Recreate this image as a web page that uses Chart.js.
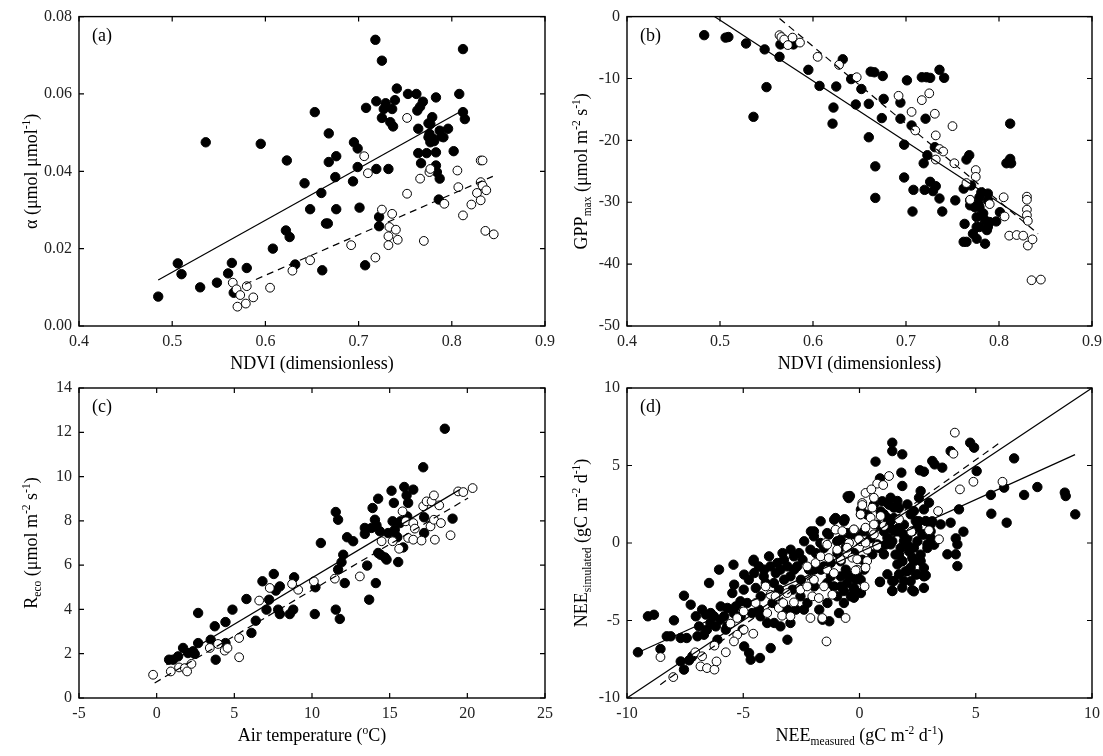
<!DOCTYPE html>
<html><head><meta charset="utf-8">
<script src="https://cdn.jsdelivr.net/npm/chart.js@4.4.0/dist/chart.umd.min.js"></script>
<style>
html,body{margin:0;padding:0;background:#fff;overflow:hidden;width:1103px;height:756px;}
canvas{position:absolute;left:0;top:0;}
</style></head><body>
<canvas id="ca" width="1200" height="800"></canvas>
<canvas id="cb" width="1200" height="800"></canvas>
<canvas id="cc" width="1200" height="800"></canvas>
<canvas id="cd" width="1200" height="800"></canvas>
<script>
// ---------- Panel (a): alpha vs NDVI ----------
const A_X_TICKS = [0.4, 0.5, 0.6, 0.7, 0.8, 0.9];
const A_X_LABELS = ['0.4', '0.5', '0.6', '0.7', '0.8', '0.9'];
const A_Y_TICKS = [0, 0.02, 0.04, 0.06, 0.08];
const A_Y_LABELS = ['0.00', '0.02', '0.04', '0.06', '0.08'];
const A_FILLED = [[0.485,0.0076],[0.506,0.0162],[0.510,0.0134],[0.530,0.0100],[0.536,0.0475],[0.548,0.0112],[0.560,0.0136],[0.564,0.0163],[0.566,0.0086],[0.580,0.0150],[0.595,0.0471],[0.608,0.0200],[0.623,0.0428],[0.622,0.0247],[0.626,0.0230],[0.632,0.0159],[0.642,0.0369],[0.648,0.0302],[0.653,0.0553],[0.660,0.0344],[0.661,0.0144],[0.665,0.0265],[0.667,0.0265],[0.668,0.0498],[0.668,0.0424],[0.675,0.0385],[0.676,0.0439],[0.676,0.0302],[0.695,0.0475],[0.694,0.0374],[0.699,0.0459],[0.699,0.0411],[0.701,0.0306],[0.707,0.0157],[0.708,0.0564],[0.718,0.0740],[0.719,0.0406],[0.719,0.0581],[0.722,0.0282],[0.722,0.0258],[0.725,0.0686],[0.725,0.0538],[0.727,0.0561],[0.729,0.0576],[0.732,0.0406],[0.734,0.0527],[0.736,0.0561],[0.737,0.0516],[0.739,0.0584],[0.741,0.0614],[0.753,0.0600],[0.762,0.0600],[0.763,0.0557],[0.764,0.0510],[0.764,0.0447],[0.766,0.0567],[0.767,0.0421],[0.769,0.0580],[0.773,0.0447],[0.775,0.0524],[0.776,0.0497],[0.777,0.0475],[0.779,0.0540],[0.781,0.0478],[0.783,0.0591],[0.783,0.0449],[0.783,0.0415],[0.784,0.0398],[0.787,0.0381],[0.786,0.0327],[0.789,0.0490],[0.796,0.0510],[0.802,0.0452],[0.808,0.0600],[0.812,0.0716],[0.812,0.0553],[0.814,0.0535],[0.787,0.0505],[0.791,0.0488],[0.777,0.0522],[0.775,0.0488],[0.780,0.0484]];
const A_OPEN = [[0.565,0.0112],[0.569,0.0095],[0.573,0.0080],[0.570,0.0050],[0.579,0.0058],[0.580,0.0103],[0.587,0.0074],[0.605,0.0099],[0.629,0.0143],[0.648,0.0170],[0.692,0.0209],[0.706,0.0439],[0.710,0.0395],[0.718,0.0177],[0.725,0.0301],[0.733,0.0256],[0.732,0.0232],[0.732,0.0209],[0.736,0.0290],[0.740,0.0249],[0.742,0.0223],[0.752,0.0538],[0.752,0.0342],[0.766,0.0381],[0.770,0.0220],[0.776,0.0398],[0.777,0.0406],[0.792,0.0316],[0.806,0.0402],[0.807,0.0359],[0.812,0.0286],[0.821,0.0314],[0.827,0.0344],[0.831,0.0428],[0.833,0.0428],[0.831,0.0372],[0.833,0.0363],[0.831,0.0325],[0.837,0.0351],[0.836,0.0246],[0.845,0.0237]];
const A_SOLID = [[0.485,0.0119],[0.809,0.0554]];
const A_DASH = [[0.578,0.0108],[0.844,0.0387]];

// ---------- Panel (b): GPPmax vs NDVI ----------
const B_X_TICKS = [0.4, 0.5, 0.6, 0.7, 0.8, 0.9];
const B_X_LABELS = ['0.4', '0.5', '0.6', '0.7', '0.8', '0.9'];
const B_Y_TICKS = [-50, -40, -30, -20, -10, 0];
const B_Y_LABELS = ['-50', '-40', '-30', '-20', '-10', '0'];
const B_FILLED = [[0.483,-3.0],[0.506,-3.4],[0.509,-3.3],[0.528,-4.35],[0.548,-5.3],[0.550,-11.4],[0.564,-6.5],[0.565,-4.5],[0.579,-4.5],[0.536,-16.2],[0.595,-8.6],[0.607,-11.2],[0.621,-17.3],[0.622,-14.7],[0.625,-11.3],[0.632,-6.9],[0.641,-10.1],[0.646,-14.2],[0.652,-11.7],[0.660,-14.1],[0.660,-19.5],[0.662,-8.9],[0.666,-9.0],[0.667,-24.2],[0.667,-29.3],[0.675,-9.6],[0.676,-13.3],[0.674,-16.4],[0.694,-13.9],[0.694,-16.5],[0.698,-20.7],[0.698,-26.0],[0.701,-10.3],[0.706,-17.6],[0.707,-31.5],[0.708,-28.0],[0.717,-9.8],[0.719,-23.7],[0.720,-28.0],[0.722,-9.8],[0.726,-9.9],[0.721,-16.5],[0.723,-22.4],[0.726,-26.7],[0.729,-28.2],[0.732,-27.4],[0.731,-21.1],[0.736,-8.6],[0.736,-29.4],[0.739,-31.5],[0.741,-9.9],[0.753,-29.7],[0.762,-27.8],[0.763,-33.5],[0.762,-36.4],[0.765,-36.4],[0.765,-23.1],[0.768,-22.4],[0.769,-29.7],[0.770,-27.3],[0.774,-30.8],[0.776,-32.4],[0.776,-34.0],[0.778,-30.2],[0.779,-29.2],[0.781,-28.4],[0.783,-31.8],[0.785,-32.9],[0.787,-34.5],[0.788,-28.6],[0.790,-33.2],[0.797,-33.1],[0.772,-35.1],[0.776,-35.9],[0.785,-36.7],[0.801,-31.6],[0.812,-17.3],[0.808,-23.7],[0.812,-23.0],[0.813,-23.7],[0.769,-30.5],[0.788,-29.7],[0.779,-30.8],[0.788,-34.0],[0.779,-34.0]];
const B_OPEN = [[0.564,-3.0],[0.566,-3.3],[0.569,-3.7],[0.573,-4.6],[0.578,-3.4],[0.586,-4.2],[0.605,-6.5],[0.628,-7.8],[0.647,-9.8],[0.692,-12.8],[0.706,-15.4],[0.710,-18.4],[0.717,-13.5],[0.725,-12.4],[0.731,-15.7],[0.732,-19.2],[0.732,-23.1],[0.736,-21.4],[0.740,-21.8],[0.750,-17.7],[0.752,-23.7],[0.765,-26.9],[0.769,-29.6],[0.775,-24.8],[0.775,-25.9],[0.790,-30.3],[0.805,-29.2],[0.806,-32.3],[0.811,-35.4],[0.819,-35.3],[0.826,-35.4],[0.830,-29.1],[0.830,-29.6],[0.830,-31.2],[0.830,-32.1],[0.831,-33.0],[0.831,-37.0],[0.836,-36.0],[0.835,-42.6],[0.845,-42.5]];
const B_SOLID = [[0.494,0],[0.826,-32.6]];
const B_DASH = [[0.564,-0.3],[0.842,-35.1]];

// ---------- Panel (c): Reco vs air temperature ----------
const C_X_TICKS = [-5, 0, 5, 10, 15, 20, 25];
const C_X_LABELS = ['-5', '0', '5', '10', '15', '20', '25'];
const C_Y_TICKS = [0, 2, 4, 6, 8, 10, 12, 14];
const C_Y_LABELS = ['0', '2', '4', '6', '8', '10', '12', '14'];
const C_FILLED = [[0.80,1.73],[1.06,1.73],[1.38,1.88],[1.70,2.26],[2.02,2.03],[2.34,2.11],[2.45,1.99],[2.67,2.48],[2.67,3.84],[3.48,2.63],[3.74,3.24],[3.80,1.73],[4.43,3.43],[4.43,2.48],[4.88,3.99],[5.78,4.47],[6.10,2.94],[6.38,3.49],[6.81,5.27],[7.07,3.99],[7.24,4.44],[7.54,5.60],[7.67,4.85],[7.93,5.04],[7.82,3.99],[7.93,3.79],[8.57,3.79],[8.79,3.99],[8.85,5.45],[10.18,3.79],[10.22,5.00],[10.57,7.00],[11.53,8.40],[11.68,8.05],[11.53,3.99],[11.79,3.57],[11.68,5.80],[11.90,6.13],[12.01,6.47],[12.11,5.19],[12.26,7.26],[12.65,7.08],[13.40,7.68],[13.40,7.41],[13.55,5.98],[13.68,4.44],[13.90,8.58],[14.05,8.05],[14.15,7.80],[14.11,5.19],[14.26,9.00],[14.26,6.55],[14.41,6.47],[14.37,7.53],[14.69,6.35],[14.80,6.25],[15.12,9.36],[15.19,7.98],[15.27,8.81],[15.33,7.60],[15.49,7.26],[15.55,6.14],[15.70,7.98],[15.87,6.80],[15.94,9.53],[16.09,9.15],[16.19,8.81],[16.13,8.20],[16.52,9.41],[17.16,10.42],[17.22,8.16],[17.22,7.45],[18.55,12.16],[19.05,8.10],[15.66,7.90],[13.83,7.68],[14.90,7.45],[15.44,7.30]];
const C_OPEN = [[-0.23,1.05],[0.91,1.20],[1.44,1.38],[1.81,1.35],[1.96,1.20],[2.24,1.54],[3.42,2.26],[3.95,2.44],[4.38,2.14],[4.56,2.26],[5.31,2.71],[5.31,1.84],[6.60,4.40],[7.28,4.97],[8.72,5.15],[9.11,4.89],[10.12,5.27],[11.47,5.39],[13.08,5.49],[14.48,7.08],[15.19,7.08],[15.61,6.74],[15.83,8.43],[16.04,7.98],[16.19,7.23],[16.52,7.15],[16.52,7.90],[16.62,7.65],[17.05,7.11],[17.16,8.66],[17.38,8.88],[17.70,8.88],[17.63,7.75],[17.85,8.05],[17.85,9.15],[17.91,7.15],[18.19,8.70],[18.30,7.90],[18.92,7.35],[19.41,9.33],[19.74,9.30],[20.34,9.48]];
const C_SOLID = [[0.63,1.50],[19.51,9.41]];
const C_DASH = [[-0.13,0.68],[20.05,9.03]];

// ---------- Panel (d): NEE simulated vs measured ----------
const D_X_TICKS = [-10, -5, 0, 5, 10];
const D_X_LABELS = ['-10', '-5', '0', '5', '10'];
const D_Y_TICKS = [-10, -5, 0, 5, 10];
const D_Y_LABELS = ['-10', '-5', '0', '5', '10'];
const D_FILLED = [[-9.53,-7.05],[-9.10,-4.73],[-8.84,-4.63],[-8.56,-6.84],[-8.29,-6.02],[-8.12,-6.02],[-7.98,-4.99],[-7.69,-6.13],[-7.43,-6.13],[-7.69,-7.64],[-7.55,-8.17],[-7.55,-3.40],[-7.26,-3.98],[-7.33,-7.57],[-7.19,-7.31],[-7.04,-4.73],[-6.90,-5.38],[-6.97,-6.02],[-6.69,-5.92],[-6.61,-4.62],[-6.40,-4.52],[-6.47,-2.58],[-6.26,-4.73],[-6.18,-5.38],[-6.11,-6.24],[-6.04,-1.72],[-5.97,-4.09],[-5.82,-4.73],[-5.68,-4.19],[-5.75,-5.59],[-5.42,-1.40],[-5.47,-3.23],[-5.39,-2.69],[-5.32,-4.09],[-5.11,-4.73],[-5.03,-5.59],[-4.96,-6.67],[-4.96,-2.04],[-4.75,-7.10],[-4.68,-7.53],[-4.56,-1.18],[-4.53,-1.94],[-4.46,-2.90],[-4.32,-4.30],[-4.28,-7.42],[-4.25,-3.44],[-4.10,-1.72],[-4.03,-2.58],[-3.89,-0.86],[-3.82,-6.78],[-3.74,-3.87],[-3.67,-5.16],[-3.60,-1.94],[-3.53,-1.29],[-3.46,-3.01],[-3.31,-0.65],[-3.24,-2.37],[-3.10,-1.51],[-3.10,-6.24],[-2.96,-0.43],[-2.88,-3.01],[-2.81,-1.72],[-2.74,-4.30],[-2.60,-0.65],[-2.52,-2.37],[-2.45,-1.08],[-2.38,0.11],[-2.24,-3.87],[-2.17,-1.72],[-2.09,0.75],[-1.95,-2.80],[-1.88,-0.65],[-1.73,-4.30],[-1.66,-1.72],[-1.59,-4.95],[-1.38,-3.87],[-1.30,-5.05],[-1.23,-2.15],[-1.09,1.50],[-0.95,-0.65],[-0.88,-4.52],[-0.81,-2.80],[-0.66,1.50],[-0.59,-1.72],[-0.51,3.01],[-0.37,-3.44],[-0.23,-0.65],[-0.16,-2.37],[-0.09,0.43],[0.06,2.15],[0.06,-3.23],[0.20,-1.72],
[-4.55,-1.08],[-4.33,-1.51],[-4.12,-2.15],[-3.83,-1.51],[-3.68,-2.58],[-3.40,-1.72],[-3.25,-1.08],[-2.97,-2.15],[-2.82,-0.86],[-2.68,-1.51],[-2.54,-3.44],[-2.39,-4.30],[-3.11,-4.30],[-2.97,-5.16],[-3.40,-5.38],[-3.97,-5.16],[-4.26,-4.73],[-4.62,-4.52],[-4.83,-3.87],[-5.12,-3.76],[-4.98,-3.01],[-4.76,-2.37],[-1.39,-2.58],[-1.10,-2.80],[-0.81,-2.15],[-0.53,-2.58],[-0.24,-3.01],[0.05,-2.37],[-0.67,-3.87],[-0.96,-3.44],[-1.24,-1.29],[-1.53,-1.51],[-1.96,-1.72],[-2.11,-0.43],[-1.68,0.00],[-1.39,0.64],[-0.81,0.21],[-0.53,0.64],[-1.96,0.43],[-6.77,-4.30],[-6.41,-5.16],[-5.98,-4.95],[-5.69,-5.38],[-5.41,-4.52],[-6.56,-5.59],
[1.41,6.47],[1.41,5.93],[1.84,5.72],[0.69,5.25],[1.80,4.54],[2.60,4.69],[2.77,4.60],[3.13,5.29],[3.23,5.07],[3.56,4.86],[4.76,6.47],[4.93,6.15],[3.92,5.93],[-0.41,3.03],[-0.64,1.53],[1.84,3.68],[2.63,3.35],[2.56,2.92],[2.99,2.60],[2.77,2.17],[2.34,2.06],[2.42,1.42],[2.85,1.42],[3.06,1.20],[3.49,1.20],[3.92,1.31],[4.28,2.17],[4.47,0.73],[4.14,0.30],[4.21,-0.09],[3.78,-0.73],[4.14,-0.73],[4.21,-1.49],[5.04,4.64],[6.65,5.46],[5.65,3.10],[6.22,3.57],[7.08,3.10],[7.65,3.61],[8.83,3.25],[8.87,3.03],[5.67,1.89],[6.33,1.31],[9.28,1.85],[1.88,0.56],[2.06,-0.09],[1.70,-0.73],[1.84,-1.16],[2.27,-0.95],[2.20,-1.59],[1.70,-2.02],[1.91,-2.45],[0.88,-2.50],[1.41,-3.10],[2.27,-3.05],[2.80,-2.13],[-0.38,-2.13],[-0.24,-3.53],[-0.67,-3.10],[1.20,2.60],[1.48,2.28],[1.05,1.85],[1.34,1.42],[1.70,0.99],[1.20,0.34],[0.77,-0.09],[0.55,-0.73],[0.88,4.17],
[1.34,2.92],[1.63,2.71],[2.06,2.49],[2.20,1.85],[2.49,0.99],[2.70,0.56],[1.48,0.77],[1.91,0.13],[2.34,-0.30],[2.63,-1.16],[1.63,-1.38],[2.06,-1.81],[1.34,-0.09],[1.05,-0.73],[1.48,-2.45],[1.84,-2.88],[1.20,-2.02],[2.49,-2.02],[2.92,-0.09],[3.06,0.34],
[-1.96,0.75],[-1.67,1.40],[-1.53,-0.32],[-1.32,0.54],[-1.03,1.61],[-0.96,0.11],[-0.81,-1.18],[-0.67,1.40],[-0.60,-0.32],[-0.53,-2.04],[-0.46,2.90],[-0.38,0.54],[-0.31,-0.86],[-0.24,-2.90],[-0.10,-2.04],[0.12,-1.08],[0.19,0.75],[0.33,1.83],[0.48,0.32],[0.62,2.47],[0.77,1.18],[0.84,-0.32],[0.91,2.04],[0.98,2.69],[1.05,0.75],[1.12,-0.11],[1.20,1.61],[1.27,2.47],[1.34,0.97],[1.41,0.11],[1.48,1.61],[1.55,-0.75],[1.63,0.75],[1.70,2.26],[1.77,-0.32],[1.84,-1.18],[1.91,1.18],[1.98,-1.83],[2.06,0.32],[2.13,-0.54],[2.20,-2.47],[2.27,0.75],[2.34,-1.18],[2.42,-2.04],[2.49,0.11],[2.56,1.40],[2.63,-0.75],[2.77,-1.61],[2.85,-2.09],[2.77,0.54],[2.92,-0.32],[3.06,0.75],[3.13,1.40],[3.21,-0.11],[1.41,-2.47],[0.88,-2.52],[1.41,-3.08],[2.77,-2.15],[2.34,-3.12],[2.77,-2.90]];
const D_OPEN = [[-8.56,-7.36],[-8.01,-8.65],[-7.06,-7.05],[-6.84,-7.96],[-6.56,-8.07],[-6.24,-8.17],[-6.15,-7.64],[-6.77,-7.31],[-6.24,-6.62],[-5.75,-7.05],[-5.55,-5.20],[-5.26,-4.84],[-4.98,-4.41],[-4.57,-5.85],[-4.04,-2.80],[-3.83,-3.34],[-3.47,-4.19],[-3.33,-4.69],[-3.28,-3.87],[-2.97,-4.73],[-2.82,-3.83],[-2.54,-3.01],[-2.25,-1.51],[-2.25,-2.80],[-2.11,-4.84],[-2.03,-3.44],[-1.96,-2.37],[-1.89,-1.29],[-1.75,-3.55],[-1.67,-0.86],[-1.60,-4.84],[-1.53,-2.80],[-1.46,0.00],[-1.39,-1.72],[-1.32,-0.97],[-1.17,-3.34],[-1.10,-1.94],[-1.03,0.86],[-0.96,-0.43],[-0.81,-1.08],[-0.60,-4.84],[-0.53,-0.65],[-0.45,0.00],[-0.24,0.86],[-0.10,-1.72],[0.05,1.83],[0.12,2.58],[0.22,-2.80],[0.05,0.11],[0.33,-0.43],[0.26,3.23],[-4.98,-5.59],[-5.26,-5.92],[-4.47,-3.87],[-3.97,-4.52],[-3.61,-3.44],[-3.11,-3.23],[-1.42,-6.35],[-5.40,-6.35],[-1.39,-0.11],
[4.10,7.12],[4.04,5.76],[4.32,3.46],[4.90,3.95],[6.15,3.95],[3.38,2.06],[2.99,0.82],[3.42,0.24],[1.27,4.32],[0.76,3.83],[1.02,3.74],[0.51,3.46],[0.62,2.92],[0.12,2.45],[0.55,2.28],[0.91,1.74],[0.05,1.85],[0.48,1.63],[0.26,0.99],[0.62,1.20],[1.05,1.10],[1.70,1.53],[-0.24,0.88],[-0.02,0.24],[0.26,0.02],[0.62,0.56],[0.76,-0.19],[-0.31,-0.95],[-0.10,-1.05],[0.33,-1.16],[-0.17,-1.77],[0.26,-1.59],[-0.53,-0.30],[-0.74,0.77],[2.23,0.73]];
const D_ONE_TO_ONE = [[-10,-10],[10,10]];
const D_SOLID = [[-9.36,-6.95],[9.27,5.70]];
const D_DASH = [[-8.57,-9.14],[6.11,6.55]];

// ---------- rendering ----------
const FONT = '"Liberation Serif","Times New Roman",serif';
const CW = 1200, CH = 800;

function drawRich(ctx, parts, cx, cy, size, rotate) {
  ctx.save();
  ctx.letterSpacing = '0px';
  ctx.translate(cx, cy);
  if (rotate) ctx.rotate(-Math.PI / 2);
  ctx.textBaseline = 'alphabetic';
  ctx.textAlign = 'left';
  ctx.fillStyle = '#000';
  let w = 0;
  for (const [t, k] of parts) {
    ctx.font = (k ? size * 0.64 : size) + 'px ' + FONT;
    w += ctx.measureText(t).width;
  }
  let x = -w / 2;
  for (const [t, k] of parts) {
    ctx.font = (k ? size * 0.64 : size) + 'px ' + FONT;
    const dy = k === 'sub' ? size * 0.24 : (k === 'sup' ? -size * 0.40 : 0);
    ctx.fillText(t, x, dy);
    x += ctx.measureText(t).width;
  }
  ctx.restore();
}

function pts(arr) { return arr.map(p => ({x: p[0], y: p[1]})); }

function makePanel(id, P) {
  const [l, t, r, b] = P.area;
  const canvas = document.getElementById(id);
  const ctx = canvas.getContext('2d');
  ctx.letterSpacing = '2px';
  const datasets = [];
  P.lines.forEach(ln => datasets.push({
    data: pts(ln.pts), showLine: true, pointRadius: 0, borderColor: '#000',
    borderWidth: 1.2, borderDash: ln.dash ? [7, 5] : [], fill: false, order: 0
  }));
  datasets.push({data: pts(P.open), pointRadius: 4.4, pointBorderWidth: 1,
    backgroundColor: '#fff', borderColor: '#000', pointBackgroundColor: '#fff', pointBorderColor: '#000', order: 1});
  datasets.push({data: pts(P.filled), pointRadius: 4.7, pointBorderWidth: 1,
    backgroundColor: '#000', borderColor: '#000', pointBackgroundColor: '#000', pointBorderColor: '#000', order: 2});

  const tickFont = {family: FONT, size: 16};
  const deco = {
    id: 'deco',
    afterDraw(chart) {
      const c = chart.ctx, a = chart.chartArea;
      const xs = chart.scales.x, ys = chart.scales.y;
      c.save();
      c.strokeStyle = '#000';
      c.lineWidth = 1.4;
      c.strokeRect(a.left, a.top, a.right - a.left, a.bottom - a.top);
      c.lineWidth = 1.2;
      c.beginPath();
      P.xTicks.forEach(v => {
        const px = xs.getPixelForValue(v);
        c.moveTo(px, a.bottom); c.lineTo(px, a.bottom - 5);
        c.moveTo(px, a.top); c.lineTo(px, a.top + 5);
      });
      P.yTicks.forEach(v => {
        const py = ys.getPixelForValue(v);
        c.moveTo(a.left, py); c.lineTo(a.left + 5, py);
        c.moveTo(a.right, py); c.lineTo(a.right - 5, py);
      });
      c.stroke();
      c.letterSpacing = '0px';
      c.fillStyle = '#000';
      c.font = '18px ' + FONT;
      c.textAlign = 'left';
      c.textBaseline = 'alphabetic';
      c.fillText(P.label, a.left + 13, a.top + 24);
      drawRich(c, P.xTitle, (a.left + a.right) / 2, a.bottom + 43, 18, false);
      drawRich(c, P.yTitle, P.yTitleX, (a.top + a.bottom) / 2, 18, true);
      c.restore();
    }
  };

  new Chart(ctx, {
    type: 'scatter',
    data: {datasets},
    options: {
      responsive: false, animation: false, devicePixelRatio: 1, events: [],
      layout: {padding: {left: 0, top: t, right: CW - r, bottom: 0}},
      plugins: {legend: {display: false}, tooltip: {enabled: false}},
      scales: {
        x: {
          type: 'linear', min: P.xTicks[0], max: P.xTicks[P.xTicks.length - 1],
          afterBuildTicks: s => { s.ticks = P.xTicks.map(v => ({value: v})); },
          afterFit: s => { s.height = CH - b; },
          grid: {display: false, drawTicks: false}, border: {display: false},
          ticks: {autoSkip: false, maxRotation: 0, padding: 6, color: '#222', font: tickFont,
            callback: (v, i) => P.xLabels[i]}
        },
        y: {
          type: 'linear', min: P.yTicks[0], max: P.yTicks[P.yTicks.length - 1],
          afterBuildTicks: s => { s.ticks = P.yTicks.map(v => ({value: v})); },
          afterFit: s => { s.width = l; },
          grid: {display: false, drawTicks: false}, border: {display: false},
          ticks: {autoSkip: false, padding: 7, color: '#222', font: tickFont,
            callback: (v, i) => P.yLabels[i]}
        }
      }
    },
    plugins: [deco]
  });
}

makePanel('ca', {
  area: [79, 16, 545, 326], xTicks: A_X_TICKS, xLabels: A_X_LABELS, yTicks: A_Y_TICKS, yLabels: A_Y_LABELS,
  filled: A_FILLED, open: A_OPEN, lines: [{pts: A_SOLID, dash: false}, {pts: A_DASH, dash: true}],
  label: '(a)', yTitleX: 37,
  xTitle: [['NDVI (dimensionless)', '']],
  yTitle: [['α (μmol μmol', ''], ['-1', 'sup'], [')', '']]
});
makePanel('cb', {
  area: [627, 16, 1092, 326], xTicks: B_X_TICKS, xLabels: B_X_LABELS, yTicks: B_Y_TICKS, yLabels: B_Y_LABELS,
  filled: B_FILLED, open: B_OPEN, lines: [{pts: B_SOLID, dash: false}, {pts: B_DASH, dash: true}],
  label: '(b)', yTitleX: 587,
  xTitle: [['NDVI (dimensionless)', '']],
  yTitle: [['GPP', ''], ['max', 'sub'], [' (μmol m', ''], ['-2', 'sup'], [' s', ''], ['-1', 'sup'], [')', '']]
});
makePanel('cc', {
  area: [79, 388, 545, 698], xTicks: C_X_TICKS, xLabels: C_X_LABELS, yTicks: C_Y_TICKS, yLabels: C_Y_LABELS,
  filled: C_FILLED, open: C_OPEN, lines: [{pts: C_SOLID, dash: false}, {pts: C_DASH, dash: true}],
  label: '(c)', yTitleX: 37,
  xTitle: [['Air temperature (', ''], ['o', 'sup'], ['C)', '']],
  yTitle: [['R', ''], ['eco', 'sub'], [' (μmol m', ''], ['-2', 'sup'], [' s', ''], ['-1', 'sup'], [')', '']]
});
makePanel('cd', {
  area: [627, 388, 1092, 698], xTicks: D_X_TICKS, xLabels: D_X_LABELS, yTicks: D_Y_TICKS, yLabels: D_Y_LABELS,
  filled: D_FILLED, open: D_OPEN,
  lines: [{pts: D_ONE_TO_ONE, dash: false}, {pts: D_SOLID, dash: false}, {pts: D_DASH, dash: true}],
  label: '(d)', yTitleX: 587,
  xTitle: [['NEE', ''], ['measured', 'sub'], [' (gC m', ''], ['-2', 'sup'], [' d', ''], ['-1', 'sup'], [')', '']],
  yTitle: [['NEE', ''], ['simulated', 'sub'], [' (gC m', ''], ['-2', 'sup'], [' d', ''], ['-1', 'sup'], [')', '']]
});
</script>
</body></html>
